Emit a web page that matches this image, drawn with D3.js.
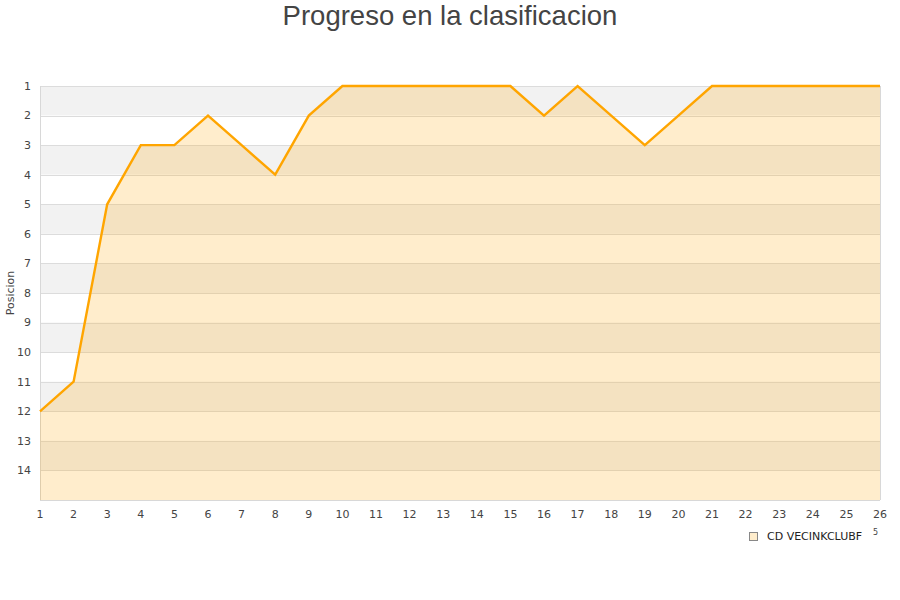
<!DOCTYPE html>
<html><head><meta charset="utf-8">
<script src="https://cdn.jsdelivr.net/npm/d3@7"></script>
<style>body{margin:0;background:#fff}svg{display:block}text{font-family:"DejaVu Sans",sans-serif}text.title{font-family:"Liberation Sans",Arial,sans-serif}</style>
</head><body>
<svg id="c" width="900" height="600"></svg>
<script>
const rounds = d3.range(1, 27);
const positions = [12, 11, 5, 3, 3, 2, 3, 4, 2, 1, 1, 1, 1, 1, 1, 2, 1, 2, 3, 2, 1, 1, 1, 1, 1, 1];
const yTicks = d3.range(1, 15);
const title = "Progreso en la clasificacion";
const yLabel = "Posicion";
const seriesName = "CD VECINKCLUBF";

const svg = d3.select("#c");
const L = 40, R = 880, T = 86, B = 500;
const x = d3.scaleLinear().domain([1, 26]).range([L, R]);
const y = d3.scaleLinear().domain([1, 15]).range([T, B]);

// alternating bands
svg.append("g").selectAll("rect").data(d3.range(1, 15)).join("rect")
  .attr("x", L).attr("width", R - L)
  .attr("y", d => y(d)).attr("height", d => y(d + 1) - y(d))
  .attr("fill", d => d % 2 === 1 ? "#f2f2f2" : "#ffffff");

// gridlines
svg.append("g").selectAll("line").data(yTicks).join("line")
  .attr("x1", L).attr("x2", R)
  .attr("y1", d => Math.round(y(d)) + 0.5).attr("y2", d => Math.round(y(d)) + 0.5)
  .attr("stroke", "#dcdcdc").attr("stroke-width", 1);

// plot border (left, right, bottom)
svg.append("line").attr("x1", L + 0.5).attr("x2", L + 0.5).attr("y1", T).attr("y2", B).attr("stroke", "#d8d8d8");
svg.append("line").attr("x1", R + 0.5).attr("x2", R + 0.5).attr("y1", T).attr("y2", B).attr("stroke", "#d8d8d8");
svg.append("line").attr("x1", L).attr("x2", R).attr("y1", B + 0.5).attr("y2", B + 0.5).attr("stroke", "#d8d8d8");

const data = rounds.map((r, i) => ({ r, p: positions[i] }));
svg.append("path").datum(data)
  .attr("d", d3.area().x(d => x(d.r)).y0(B).y1(d => y(d.p)))
  .attr("fill", "orange").attr("fill-opacity", 0.2);
svg.append("path").datum(data)
  .attr("d", d3.line().x(d => x(d.r)).y(d => y(d.p)))
  .attr("fill", "none").attr("stroke", "#ffa500").attr("stroke-width", 2.4);

// y axis labels
svg.append("g").selectAll("text").data(yTicks).join("text")
  .attr("x", 31).attr("y", d => y(d)).attr("dy", "0.35em")
  .attr("text-anchor", "end").attr("font-size", 11).attr("fill", "#444")
  .text(d => d);

// x axis labels
svg.append("g").selectAll("text").data(rounds).join("text")
  .attr("x", d => x(d)).attr("y", 518)
  .attr("text-anchor", "middle").attr("font-size", 11).attr("fill", "#444")
  .text(d => d);

svg.append("text").attr("class", "title").attr("x", 450).attr("y", 25).attr("text-anchor", "middle")
  .attr("font-size", 27.5).attr("fill", "#444").text(title);

svg.append("text").attr("transform", "translate(14,293) rotate(-90)")
  .attr("text-anchor", "middle").attr("font-size", 11).attr("fill", "#444").text(yLabel);

// legend
svg.append("rect").attr("x", 749.5).attr("y", 532.5).attr("width", 8).attr("height", 8)
  .attr("fill", "#ffedcc").attr("stroke", "#888").attr("stroke-width", 1);
svg.append("text").attr("x", 767).attr("y", 540).attr("font-size", 11).attr("fill", "#222")
  .text(seriesName);
svg.append("text").attr("x", 873).attr("y", 535).attr("font-size", 8).attr("fill", "#444").text("5");
</script>
</body></html>
